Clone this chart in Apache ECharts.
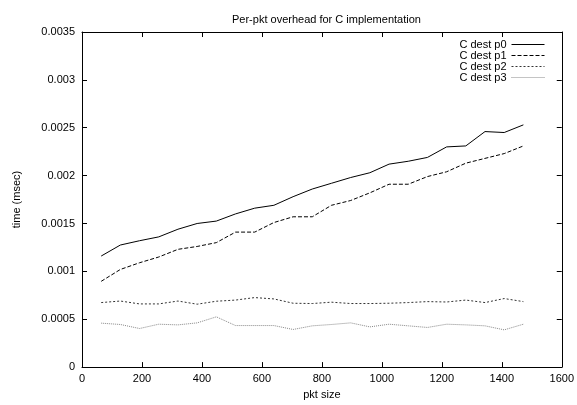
<!DOCTYPE html>
<html>
<head>
<meta charset="utf-8">
<script src="https://cdn.jsdelivr.net/npm/echarts@6/dist/echarts.min.js"></script>
<style>
html,body{margin:0;padding:0;background:#fff;}
#chart{width:577px;height:405px;}
</style>
</head>
<body>
<div id="chart"></div>
<script>
var pktSizes = [64,128,192,256,320,384,448,512,576,640,704,768,832,896,960,1024,1088,1152,1216,1280,1344,1408,1472];
var destP0 = [0.00116,0.001275,0.00132,0.00136,0.00144,0.0015,0.001525,0.0016,0.00166,0.00169,0.00178,0.00186,0.00192,0.00198,0.00203,0.00212,0.00215,0.00219,0.0023,0.00231,0.00246,0.00245,0.00253];
var destP1 = [0.000896,0.00102,0.00109,0.00115,0.00123,0.00126,0.0013,0.00141,0.00141,0.00151,0.00157,0.00157,0.00169,0.00174,0.00182,0.00191,0.00191,0.00199,0.00204,0.00213,0.00218,0.00223,0.00231];
var destP2 = [0.000674,0.00069,0.00066,0.00066,0.00069,0.000657,0.000688,0.0007,0.000726,0.000712,0.000667,0.000664,0.000678,0.000664,0.000664,0.000667,0.000674,0.000684,0.00068,0.0007,0.000674,0.000716,0.000684];
var destP3 = [0.000459,0.000445,0.000403,0.000448,0.000441,0.000462,0.000525,0.000434,0.000434,0.000434,0.000393,0.000431,0.000445,0.000462,0.00042,0.000448,0.000431,0.000414,0.000448,0.000441,0.000431,0.000389,0.000448];
var seriesNames = ['C dest p0','C dest p1','C dest p2','C dest p3'];
var xTicks = {min:0, max:1600, interval:200};
var yTicks = {min:0, max:0.0035, interval:0.0005};

var FONT = 'Liberation Sans, Arial, sans-serif';
function pairs(vals){ return pktSizes.map(function(x,i){ return [x, vals[i]]; }); }

var styles = [
  {color:'#000', type:'solid'},
  {color:'#000', type:[4,2]},
  {color:'#333', type:[2,2]},
  {color:'#888', type:[1,1]}
];
var allVals = [destP0, destP1, destP2, destP3];

var chart = echarts.init(document.getElementById('chart'), null, {renderer:'canvas'});
var axisLine = {show:true, onZero:false, lineStyle:{color:'#000', width:1}};
var axisTick = {show:true, inside:true, length:5, lineStyle:{color:'#000', width:1}};
chart.setOption({
  animation:false,
  backgroundColor:'#fff',
  title:{
    text:'Per-pkt overhead for C implementation',
    left:227, top:9,
    textStyle:{fontFamily:FONT, fontSize:11, fontWeight:'normal', color:'#000'}
  },
  legend:{
    orient:'vertical',
    right:27, top:34,
    align:'right',
    itemWidth:33, itemHeight:8, itemGap:0,
    itemStyle:{opacity:0, borderWidth:0},
    lineStyle:{width:1, inactiveWidth:1},
    textStyle:{fontFamily:FONT, fontSize:11, color:'#000', lineHeight:11},
    data:seriesNames.map(function(n,i){
      return {name:n, lineStyle:{color:styles[i].color, width:1, type:styles[i].type}};
    })
  },
  grid:{left:82, right:14, top:32, bottom:37, containLabel:false},
  xAxis:[{
    type:'value', min:xTicks.min, max:xTicks.max, interval:xTicks.interval,
    name:'pkt size', nameLocation:'middle', nameGap:20,
    nameTextStyle:{fontFamily:FONT, fontSize:11, color:'#000'},
    axisLine:axisLine, axisTick:axisTick,
    axisLabel:{fontFamily:FONT, fontSize:11, color:'#000', margin:6, formatter:function(v){ return String(v); }},
    splitLine:{show:false}
  },{
    type:'value', position:'top', min:xTicks.min, max:xTicks.max, interval:xTicks.interval,
    axisLine:axisLine, axisTick:axisTick, axisLabel:{show:false}, splitLine:{show:false}
  }],
  yAxis:[{
    type:'value', min:yTicks.min, max:yTicks.max, interval:yTicks.interval,
    name:'time (msec)', nameLocation:'middle', nameGap:60, nameRotate:90,
    nameTextStyle:{fontFamily:FONT, fontSize:11, color:'#000'},
    axisLine:axisLine, axisTick:axisTick,
    axisLabel:{fontFamily:FONT, fontSize:11, color:'#000', margin:7},
    splitLine:{show:false}
  },{
    type:'value', position:'right', min:yTicks.min, max:yTicks.max, interval:yTicks.interval,
    axisLine:axisLine, axisTick:axisTick, axisLabel:{show:false}, splitLine:{show:false}
  }],
  series:seriesNames.map(function(n,i){
    return {
      name:n, type:'line', xAxisIndex:0, yAxisIndex:0,
      data:pairs(allVals[i]),
      showSymbol:false, symbol:'none',
      itemStyle:{color:styles[i].color},
      lineStyle:{color:styles[i].color, width:1, type:styles[i].type}
    };
  })
});
</script>
</body>
</html>
